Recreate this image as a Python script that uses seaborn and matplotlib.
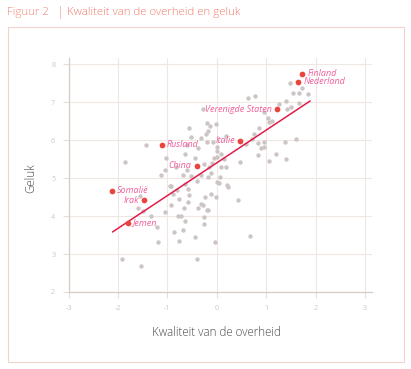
import matplotlib
matplotlib.use("Agg")
import matplotlib.pyplot as plt
import seaborn as sns
import pandas as pd
from matplotlib.patches import Rectangle

# ---------------- data ----------------
gov_quality = [
    -1.44, -1.86, -1.02, -1.13, -1.04, -0.56, -0.53, -0.61, -0.64, -0.44,
    -0.39, -0.31, -0.20, -0.14, -0.18, -0.21, -0.20, -0.02, -0.28, -0.26,
    -0.69, -0.61, -0.82, -0.53, -0.16, -0.09, 0.01, -0.32, -0.12, 0.05,
    -0.93, 1.48, 1.55, 1.67, 1.73, 1.85, 1.67, 1.41, 1.25, 1.50,
    1.42, 0.64, 0.78, 0.95, 1.03, 1.11, 1.05, 0.86, 0.76, 0.72,
    0.84, 0.96, 0.96, 0.89, 0.84, 1.20, 1.37, 1.60, 1.41, 1.06,
    0.46, 0.60, 0.01, 0.00, 0.14, 0.08, 0.18, 0.07, 0.00, 0.20,
    0.22, -1.59, -1.56, -1.50, -1.34, -1.20, -1.18, -1.91, -1.53, -1.04,
    -0.94, -0.88, -0.76, -0.81, -0.64, -0.57, -0.59, -0.66, -0.92, -0.78,
    -0.73, -0.65, -0.69, -0.87, -0.76, -0.45, -0.40, -0.39, -0.32, -0.28,
    -0.23, -0.12, -0.01, -0.26, -0.19, -0.26, -0.04, -0.41, -0.17, 0.43,
    0.68, -0.18, 0.18, -0.07, 0.08, -0.05, -0.58,
]
happiness = [
    5.88, 5.43, 5.53, 5.09, 5.21, 6.33, 6.09, 5.86, 5.62, 5.53,
    5.79, 6.06, 6.46, 6.37, 6.23, 6.15, 5.95, 6.42, 6.82, 5.37,
    5.08, 5.21, 5.30, 5.05, 5.30, 5.39, 5.56, 5.08, 5.12, 4.86,
    4.79, 7.51, 7.25, 7.25, 7.36, 7.22, 6.97, 7.03, 6.94, 6.87,
    6.81, 7.12, 7.16, 6.74, 6.58, 6.51, 6.47, 6.31, 6.15, 6.03,
    5.92, 5.94, 5.82, 5.78, 5.60, 5.62, 5.95, 6.02, 5.49, 5.44,
    5.42, 5.89, 5.82, 5.71, 5.50, 5.30, 5.30, 5.03, 4.89, 4.82,
    4.77, 4.20, 4.53, 4.14, 4.01, 3.72, 3.32, 2.87, 2.68, 4.10,
    4.80, 4.58, 4.45, 4.68, 4.83, 4.55, 4.36, 4.22, 4.30, 4.01,
    4.01, 3.86, 3.63, 3.58, 3.33, 3.45, 2.87, 4.20, 4.32, 4.29,
    4.51, 4.57, 4.51, 3.98, 4.15, 3.79, 3.32, 4.92, 5.02, 4.43,
    3.48, 4.16, 6.10, 5.94, 5.63, 5.52, 4.70,
]

highlight_names = ["Finland", "Nederland", "Verenigde Staten", "Italie", "Rusland",
                   "China", "Somalië", "Irak", "Jemen"]
highlight_x = [1.73, 1.65, 1.22, 0.47, -1.11, -0.41, -2.12, -1.47, -1.80]
highlight_y = [7.74, 7.53, 6.81, 5.98, 5.88, 5.32, 4.67, 4.41, 3.82]

fit_x = [-2.11, 1.89]
fit_y = [3.58, 7.03]

x_ticks = [-3, -2, -1, 0, 1, 2, 3]
y_ticks = [2, 3, 4, 5, 6, 7, 8]

# label side for each highlighted country (layout)
label_side = {"Finland": "right", "Nederland": "right", "Verenigde Staten": "left",
              "Italie": "left", "Rusland": "right", "China": "left",
              "Somalië": "right", "Irak": "left", "Jemen": "right"}

# ---------------- styling ----------------
sns.set_theme(style="white")
plt.rcParams['font.family'] = ['Open Sans', 'DejaVu Sans']
plt.rcParams['axes.unicode_minus'] = False

fig = plt.figure(figsize=(4.11, 3.69), dpi=100)
W, H = 411, 369
ax = fig.add_axes([68.5 / W, 1 - 292 / H, (372 - 68.5) / W, (292 - 58) / H])

df_all = pd.DataFrame({"x": gov_quality, "y": happiness})
df_hi = pd.DataFrame({"x": highlight_x, "y": highlight_y, "name": highlight_names})
df_fit = pd.DataFrame({"x": fit_x, "y": fit_y})

sns.scatterplot(data=df_all, x="x", y="y", color="#cdc5c5", s=10, linewidth=0,
                ax=ax, zorder=3, legend=False)
sns.lineplot(data=df_fit, x="x", y="y", color="#e11c48", linewidth=1.1, ax=ax, zorder=4)
sns.scatterplot(data=df_hi, x="x", y="y", color="#e9453d", s=17, linewidth=0,
                ax=ax, zorder=5, legend=False)

for _, r in df_hi.iterrows():
    side = label_side[r["name"]]
    dx = 3.5 if side == "right" else -3.5
    ax.annotate(r["name"], (r["x"], r["y"]), xytext=(dx, 0), textcoords="offset points",
                ha="left" if side == "right" else "right", va="center",
                fontsize=6.5, style="italic", color="#f0609a", zorder=6)

ax.set_xlim(-3, 3.14)
ax.set_ylim(2, 8.16)
ax.set_xticks(x_ticks)
ax.set_yticks(y_ticks)
ax.grid(True, color="#efe8e2", linewidth=0.8, zorder=0)
ax.set_axisbelow(True)
for s in ["top", "right"]:
    ax.spines[s].set_visible(False)
for s in ["left", "bottom"]:
    ax.spines[s].set_color("#d6ccc4")
    ax.spines[s].set_linewidth(0.9)
ax.tick_params(axis="both", which="major", length=4.5, width=0.8, color="#e6dfd9",
               labelcolor="#c9c9c9", labelsize=5.2, pad=5, left=True, bottom=True)
ax.set_xlabel("")
ax.set_ylabel("")

fig.text(216 / W, 1 - 333 / H, "Kwaliteit van de overheid", ha="center", va="center",
         fontsize=8.4, fontweight="light", color="#4a4a4a")
fig.text(31 / W, 1 - 178 / H, "Geluk", ha="center", va="center", rotation=90,
         fontsize=8.4, fontweight="light", color="#4a4a4a")

# title
fig.text(7 / W, 1 - 13 / H, "Figuur 2", ha="left", va="center", fontsize=8.2,
         fontweight="light", color="#f08575")
fig.text(60 / W, 1 - 12.5 / H, "|", ha="center", va="center", fontsize=9,
         fontweight="light", color="#f3a392")
fig.text(67 / W, 1 - 13 / H, "Kwaliteit van de overheid en geluk", ha="left", va="center",
         fontsize=8.2, fontweight="light", color="#f07a6a")

# frame around chart
fig.patches.append(Rectangle((8 / W, 1 - 362 / H), (404 - 8) / W, (362 - 27) / H,
                             transform=fig.transFigure, fill=False,
                             edgecolor="#f2d3cb", linewidth=0.8))

fig.savefig("out.png", dpi=100)
